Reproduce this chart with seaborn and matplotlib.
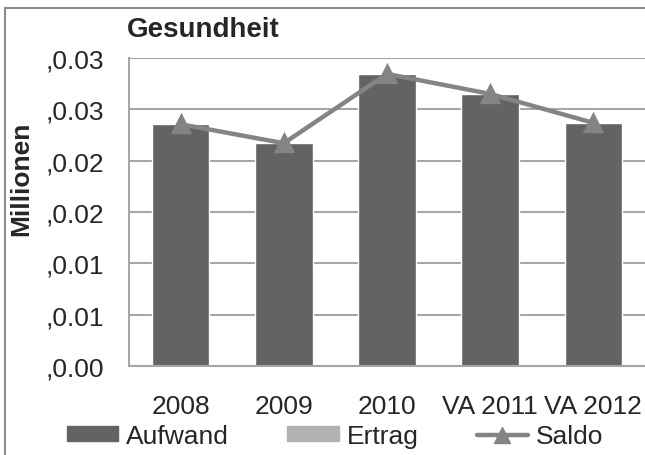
import numpy as np
import pandas as pd
import matplotlib
matplotlib.use("Agg")
import matplotlib.pyplot as plt
from matplotlib.patches import Patch, Rectangle
from matplotlib.lines import Line2D
import seaborn as sns

# ── Daten ──────────────────────────────────────────────────
KATEGORIEN = ["2008", "2009", "2010", "VA 2011", "VA 2012"]
AUFWAND    = [0.02355, 0.02170, 0.02845, 0.02650, 0.02368]
ERTRAG     = [0.0, 0.0, 0.0, 0.0, 0.0]
SALDO      = [0.02355, 0.02170, 0.02845, 0.02650, 0.02368]
Y_TICKS    = [0.0, 0.005, 0.01, 0.015, 0.02, 0.025, 0.03]
Y_LABELS   = [",0.00", ",0.01", ",0.01", ",0.02", ",0.02", ",0.03", ",0.03"]

C_AUFWAND = "#636363"
C_ERTRAG  = "#b2b2b2"
C_SALDO   = "#848484"
C_GRID    = "#a6a6a6"
FS        = 19

sns.set_style("white")
plt.rcParams['font.family'] = ['Liberation Sans', 'DejaVu Sans']

df = pd.DataFrame({
    "Jahr":  KATEGORIEN * 2,
    "Wert":  AUFWAND + ERTRAG,
    "Serie": ["Aufwand"] * 5 + ["Ertrag"] * 5,
})

fig = plt.figure(figsize=(6.45, 4.56), dpi=100)
ax = fig.add_axes([129 / 645, 1 - 367 / 456, 1 - 129 / 645, (367 - 59) / 456])

sns.barplot(data=df, x="Jahr", y="Wert", hue="Serie", dodge=False,
            palette=[C_AUFWAND, C_ERTRAG], width=0.56, saturation=1,
            legend=False, ax=ax, zorder=2)
sns.pointplot(x=KATEGORIEN, y=SALDO, color=C_SALDO, markers="^",
              markersize=12, linewidth=3.2, ax=ax, zorder=3)

ax.set_ylim(0, 0.03)
ax.set_xlim(-0.5, 4.5)
ax.set_yticks(Y_TICKS)
ax.set_yticklabels(Y_LABELS)
ax.yaxis.grid(True, color=C_GRID, linewidth=1.5, zorder=0)
ax.set_axisbelow(True)
ax.tick_params(axis="y", length=0, pad=18, labelsize=FS)
ax.tick_params(axis="x", length=0, pad=20, labelsize=FS)
ax.set_xlabel("")
ax.set_ylabel("Millionen", fontsize=FS, fontweight="bold")
ax.yaxis.set_label_coords(-0.186, 0.61)
for s in ["top", "right"]:
    ax.spines[s].set_visible(False)
for s in ["left", "bottom"]:
    ax.spines[s].set_color(C_GRID)
    ax.spines[s].set_linewidth(1.5)

fig.text(203 / 645, 1 - 30 / 456, "Gesundheit", fontsize=20, fontweight="bold",
         ha="center", va="center")

# äußerer Rahmen
fig.patches.append(Rectangle((4.5 / 645, -0.05), 1.2, 1 - 9 / 456 + 0.05,
                             transform=fig.transFigure, fill=False,
                             edgecolor="#8c8c8c", linewidth=1.5))

handles = [
    Patch(facecolor=C_AUFWAND, edgecolor=C_AUFWAND),
    Patch(facecolor=C_ERTRAG, edgecolor=C_ERTRAG),
    Line2D([], [], color=C_SALDO, linewidth=3.2, marker="^", markersize=12),
]
fig.legend(handles, ["Aufwand", "Ertrag", "Saldo"], ncol=3, frameon=False,
           loc="center left", bbox_to_anchor=(67 / 645, 1 - 437 / 456), fontsize=FS,
           handlelength=1.95, handleheight=0.5, handletextpad=0.3,
           columnspacing=2.2, borderaxespad=0, borderpad=0)

fig.savefig("out.png", dpi=100)
